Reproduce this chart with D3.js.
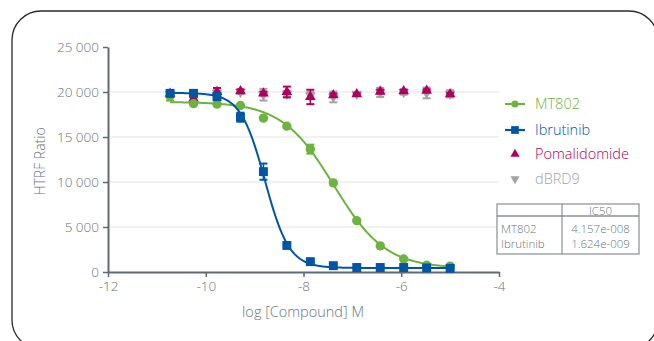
<!DOCTYPE html>
<html><head><meta charset="utf-8">
<script src="https://cdn.jsdelivr.net/npm/d3@7"></script>
<style>html,body{margin:0;padding:0;background:#fff;}svg{display:block;}text{font-weight:300;}</style>
</head><body>
<svg id="chart" width="654" height="341"></svg>
<script>
// ---- data ----
const logConc = [-10.73, -10.25, -9.77, -9.29, -8.82, -8.34, -7.86, -7.39, -6.91, -6.43, -5.95, -5.48, -5.0];
const mt802 = [19550, 18700, 18650, 18500, 17100, 16200, 13650, 9900, 5700, 2900, 1450, 750, 650];
const mt802Err = [500, 150, 150, 100, 150, 100, 500, 150, 150, 100, 100, 100, 100];
const ibrutinib = [19850, 19850, 19500, 17200, 11150, 2950, 1150, 700, 500, 500, 500, 450, 400];
const ibrutinibErr = [150, 100, 400, 500, 900, 150, 100, 100, 50, 50, 50, 50, 50];
const pomalidomide = [19800, 19250, 20000, 20100, 19850, 20000, 19450, 19650, 19750, 20050, 20100, 20150, 19750];
const pomalidomideErr = [200, 300, 450, 200, 200, 600, 800, 200, 100, 200, 150, 150, 150];
const dbrd9 = [19800, 19500, 19900, 20000, 19700, 19800, 19600, 19450, 19800, 19950, 20000, 19900, 19800];
const dbrd9Err = [200, 200, 300, 200, 650, 300, 400, 600, 200, 500, 300, 600, 400];
// 4-parameter logistic fit parameters: [top, bottom, logIC50, hill]
const mt802Fit = [18900, 400, Math.log10(4.157e-8), 0.82];
const ibrutinibFit = [19900, 450, Math.log10(1.624e-9), 1.75];
const xTicks = [-12, -10, -8, -6, -4];
const yTicks = [0, 5000, 10000, 15000, 20000, 25000];
const seriesNames = ["MT802", "Ibrutinib", "Pomalidomide", "dBRD9"];
const tableRows = [["MT802", "4.157e-008"], ["Ibrutinib", "1.624e-009"]];

const colors = {MT802: "#6db33f", Ibrutinib: "#0055a4", Pomalidomide: "#b0005e", dBRD9: "#a3a3a3"};
const FONT = "'Open Sans', sans-serif";
const svg = d3.select("#chart");

// frame
svg.append("rect").attr("x", 12).attr("y", 11).attr("width", 646).attr("height", 338)
  .attr("rx", 29).attr("ry", 29).attr("fill", "none").attr("stroke", "#2a2a2a").attr("stroke-width", 1.3);

const x = d3.scaleLinear().domain([-12, -4]).range([108, 499]);
const y = d3.scaleLinear().domain([0, 25000]).range([272, 47]);
const axisColor = "#5f6b70";
const textColor = "#69767b";

// gridlines
svg.append("g").selectAll("line").data(yTicks.filter(t => t > 0 && t < 25000)).join("line")
  .attr("x1", x(-12)).attr("x2", x(-4)).attr("y1", d => y(d)).attr("y2", d => y(d))
  .attr("stroke", "#ececec").attr("stroke-width", 1.5);

// axes
const fmt = v => d3.format(",")(v).replace(/,/g, " ");
const yAxis = svg.append("g").attr("transform", `translate(${x(-12)},0)`)
  .call(d3.axisLeft(y).tickValues(yTicks).tickFormat(fmt).tickSize(5).tickPadding(4).tickSizeOuter(0));
const xAxis = svg.append("g").attr("transform", `translate(0,${y(0)})`)
  .call(d3.axisBottom(x).tickValues(xTicks).tickFormat(d => d).tickSize(5).tickPadding(4).tickSizeOuter(0));
[yAxis, xAxis].forEach(g => {
  g.select(".domain").attr("stroke", axisColor).attr("stroke-width", 2);
  g.selectAll(".tick line").attr("stroke", axisColor).attr("stroke-width", 1.5);
  g.selectAll(".tick text").attr("fill", textColor).style("font-family", FONT).style("font-size", "13.5px");
});
xAxis.selectAll(".tick text").text(d => d < 0 ? "-" + Math.abs(d) : d);

// axis titles
svg.append("text").attr("transform", `translate(45,${(y(0) + y(25000)) / 2 + 2}) rotate(-90)`)
  .attr("text-anchor", "middle").attr("fill", textColor).style("font-family", FONT).style("font-size", "14px")
  .text("HTRF Ratio");
svg.append("text").attr("x", 303).attr("y", 317).attr("text-anchor", "middle").attr("fill", textColor)
  .style("font-family", FONT).style("font-size", "14.5px").text("log [Compound] M");

// helpers
const fourPL = p => v => p[1] + (p[0] - p[1]) / (1 + Math.pow(10, p[3] * (v - p[2])));
function errorBars(vals, errs, color) {
  const g = svg.append("g").attr("stroke", color).attr("stroke-width", 1.6).attr("fill", "none");
  vals.forEach((v, i) => {
    const cx = x(logConc[i]), y1 = y(v + errs[i]), y2 = y(v - errs[i]);
    g.append("line").attr("x1", cx).attr("x2", cx).attr("y1", y1).attr("y2", y2);
    g.append("line").attr("x1", cx - 4).attr("x2", cx + 4).attr("y1", y1).attr("y2", y1).attr("stroke-width", 2);
    g.append("line").attr("x1", cx - 4).attr("x2", cx + 4).attr("y1", y2).attr("y2", y2).attr("stroke-width", 2);
  });
}
const sym = {
  MT802: d3.symbol().type(d3.symbolCircle).size(68),
  Ibrutinib: d3.symbol().type(d3.symbolSquare).size(80),
  Pomalidomide: d3.symbol().type(d3.symbolTriangle).size(50),
  dBRD9: d3.symbol().type(d3.symbolTriangle).size(50)
};
function markers(vals, name) {
  svg.append("g").selectAll("path").data(vals).join("path")
    .attr("d", sym[name]())
    .attr("transform", (v, i) => `translate(${x(logConc[i])},${y(v)})${name === "dBRD9" ? " rotate(180)" : ""}`)
    .attr("fill", colors[name]);
}
function fitCurve(p, color) {
  const xs = d3.range(logConc[0], logConc[logConc.length - 1] + 0.001, 0.02);
  const f = fourPL(p);
  svg.append("path").datum(xs).attr("fill", "none").attr("stroke", color).attr("stroke-width", 2)
    .attr("d", d3.line().x(d => x(d)).y(d => y(f(d))));
}

// dBRD9 (behind)
errorBars(dbrd9, dbrd9Err, colors.dBRD9);
markers(dbrd9, "dBRD9");
// Pomalidomide
errorBars(pomalidomide, pomalidomideErr, colors.Pomalidomide);
markers(pomalidomide, "Pomalidomide");
// MT802
fitCurve(mt802Fit, colors.MT802);
errorBars(mt802, mt802Err, colors.MT802);
markers(mt802, "MT802");
// Ibrutinib
fitCurve(ibrutinibFit, colors.Ibrutinib);
errorBars(ibrutinib, ibrutinibErr, colors.Ibrutinib);
markers(ibrutinib, "Ibrutinib");

// legend
const legY = [104, 130, 154, 179];
seriesNames.forEach((name, i) => {
  const g = svg.append("g").attr("transform", `translate(515,${legY[i]})`);
  if (i < 2) g.append("line").attr("x1", -10).attr("x2", 10).attr("stroke", colors[name]).attr("stroke-width", 2.2);
  const s = d3.symbol().type(i === 0 ? d3.symbolCircle : i === 1 ? d3.symbolSquare : d3.symbolTriangle)
    .size(i === 0 ? 40 : i === 1 ? 60 : 36);
  g.append("path").attr("d", s()).attr("fill", colors[name]).attr("transform", i === 3 ? "rotate(180)" : null);
  g.append("text").attr("x", 20).attr("y", 5).attr("fill", colors[name])
    .style("font-family", FONT).style("font-size", "14.5px").text(name);
});

// IC50 table
const tb = svg.append("g");
const tx0 = 497, tx1 = 639, tmid = 562, ty0 = 204, thead = 216, ty1 = 254;
const tcol = "#6c777b";
tb.append("rect").attr("x", tx0).attr("y", ty0).attr("width", tx1 - tx0).attr("height", ty1 - ty0)
  .attr("fill", "#fff").attr("stroke", "#8a8f92").attr("stroke-width", 1.2);
tb.append("line").attr("x1", tx0).attr("x2", tx1).attr("y1", thead).attr("y2", thead).attr("stroke", "#8a8f92").attr("stroke-width", 1.6);
tb.append("line").attr("x1", tmid).attr("x2", tmid).attr("y1", ty0).attr("y2", ty1).attr("stroke", "#8a8f92").attr("stroke-width", 1.2);
tb.append("text").attr("x", (tmid + tx1) / 2).attr("y", 214.5).attr("text-anchor", "middle").attr("fill", tcol)
  .style("font-family", FONT).style("font-size", "11.5px").text("IC50");
tableRows.forEach((r, i) => {
  tb.append("text").attr("x", 501).attr("y", 233 + i * 15).attr("fill", tcol)
    .style("font-family", FONT).style("font-size", "11.5px").text(r[0]);
  tb.append("text").attr("x", (tmid + tx1) / 2).attr("y", 233 + i * 15).attr("text-anchor", "middle").attr("fill", tcol)
    .style("font-family", FONT).style("font-size", "11.5px").text(r[1]);
});
</script>
</body></html>
